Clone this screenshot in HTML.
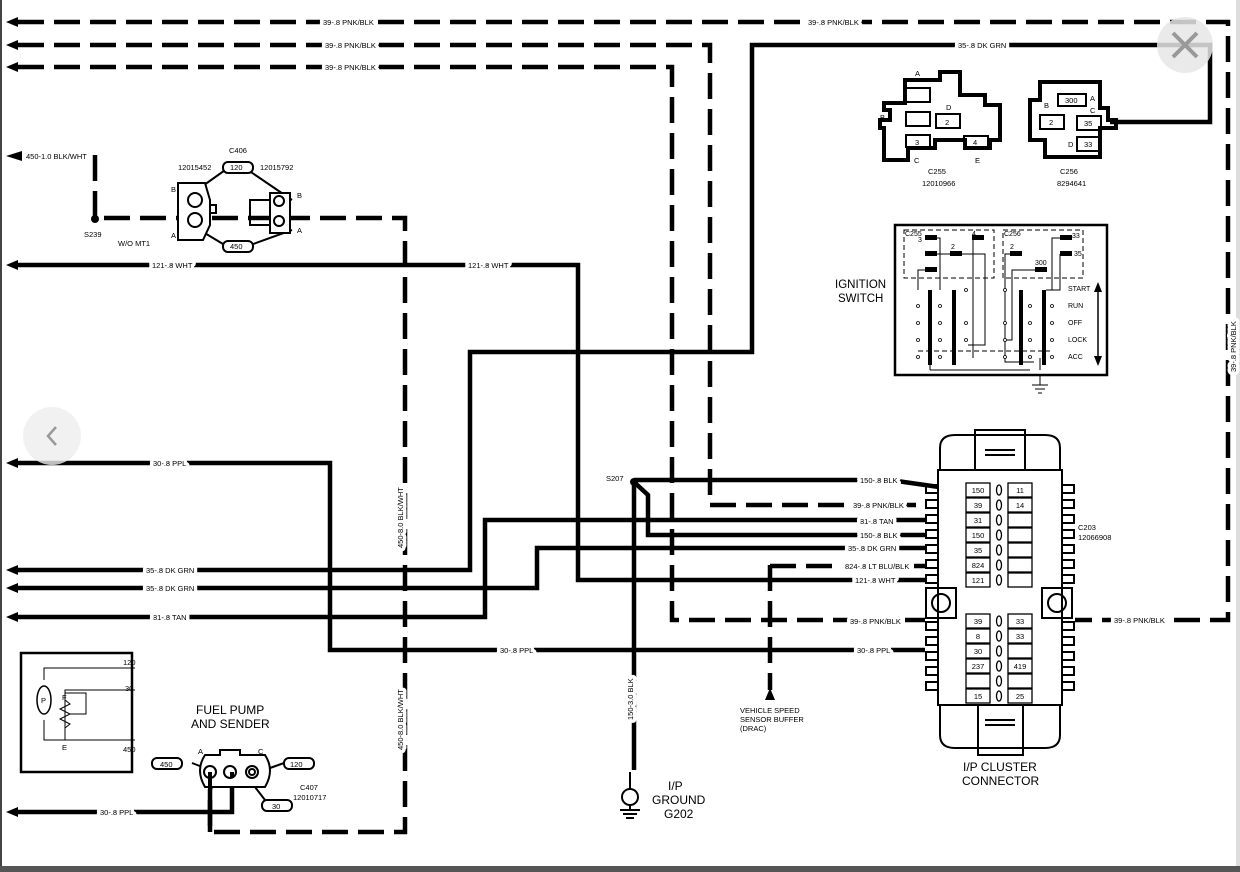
<!DOCTYPE html>
<html><head><meta charset="utf-8"><style>
html,body{margin:0;padding:0;background:#fff;}
svg{display:block;}
text{font-family:"Liberation Sans",sans-serif;fill:#000;}
.lb text{stroke:#fff;stroke-width:7px;paint-order:stroke;stroke-linejoin:round;}
</style></head><body>
<svg width="1240" height="872" viewBox="0 0 1240 872" xmlns="http://www.w3.org/2000/svg">
<rect width="1240" height="872" fill="#fff"/>
<rect x="0" y="0" width="2" height="872" fill="#444"/>
<rect x="1236" y="0" width="4" height="872" fill="#ddd"/>
<rect x="0" y="866" width="1240" height="6" fill="#555"/>

<g fill="none" stroke="#000" stroke-width="4.5">
<g stroke-dasharray="26 10">
<path d="M18 22 H1228 V620 H1075"/>
<path d="M18 45 H710 V505 H925"/>
<path d="M18 67 H672 V620 H925"/>
<path d="M95 155 V218 H405 V832 H210 V795"/>
<path d="M770 565 V690"/>
<path d="M770 566 H925"/>
</g>
<path d="M1110 122 H1210 V45 H752 V352 H470 V570 H18"/>
<path d="M18 265 H578 V580 H925"/>
<path d="M18 463 H330 V650 H925"/>
<path d="M18 617 H485 V520 H925"/>
<path d="M18 588 H537 V548 H925"/>
<path d="M634 482 V770"/>
<path d="M634 480 H890 L960 490"/>
<path d="M634 482 L648 495 V535 H925"/>
<path d="M18 812 H232 V775"/>
<path d="M210 832 V790 L213 775"/>
</g>
<g fill="#000">
<polygon points="6,265 18,260 18,270"/>
<polygon points="6,463 18,458 18,468"/>
<polygon points="6,570 18,565 18,575"/>
<polygon points="6,588 18,583 18,593"/>
<polygon points="6,617 18,612 18,622"/>
<polygon points="6,812 18,807 18,817"/>
<polygon points="6,22 18,17 18,27"/>
<polygon points="6,45 18,40 18,50"/>
<polygon points="6,67 18,62 18,72"/>
<polygon points="6,156 22,151 22,161"/>
<polygon points="770,688 765,700 775,700"/>
<circle cx="95" cy="219" r="4"/>
<circle cx="634" cy="482" r="4"/>
</g>
<g font-size="7.5" class="lb">
<text x="323" y="25">39-.8 PNK/BLK</text>
<text x="808" y="25">39-.8 PNK/BLK</text>
<text x="325" y="48">39-.8 PNK/BLK</text>
<text x="325" y="70">39-.8 PNK/BLK</text>
<text x="958" y="48">35-.8 DK GRN</text>
<text x="26" y="159">450-1.0 BLK/WHT</text>
<text x="84" y="237">S239</text>
<text x="118" y="246">W/O MT1</text>
<text x="152" y="268">121-.8 WHT</text>
<text x="468" y="268">121-.8 WHT</text>
<text x="153" y="466">30-.8 PPL</text>
<text x="146" y="573">35-.8 DK GRN</text>
<text x="146" y="591">35-.8 DK GRN</text>
<text x="153" y="620">31-.8 TAN</text>
<text x="500" y="653">30-.8 PPL</text>
<text x="857" y="653">30-.8 PPL</text>
<text x="100" y="815">30-.8 PPL</text>
<text x="606" y="481">S207</text>
<text x="860" y="483">150-.8 BLK</text>
<text x="853" y="508">39-.8 PNK/BLK</text>
<text x="860" y="524">31-.8 TAN</text>
<text x="860" y="538">150-.8 BLK</text>
<text x="848" y="551">35-.8 DK GRN</text>
<text x="845" y="569">824-.8 LT BLU/BLK</text>
<text x="855" y="583">121-.8 WHT</text>
<text x="850" y="624">39-.8 PNK/BLK</text>
<text x="1114" y="623">39-.8 PNK/BLK</text>
<text x="1078" y="530">C203</text>
<text x="1078" y="540">12066908</text>
<text x="740" y="713">VEHICLE SPEED</text>
<text x="740" y="722">SENSOR BUFFER</text>
<text x="740" y="731">(DRAC)</text>
<text transform="translate(403,548) rotate(-90)">450-8.0 BLK/WHT</text>
<text transform="translate(403,750) rotate(-90)">450-8.0 BLK/WHT</text>
<text transform="translate(633,720) rotate(-90)">150-3.0 BLK</text>
<text transform="translate(1236,372) rotate(-90)">39-.8 PNK/BLK</text>
</g>
<g fill="none" stroke="#000" stroke-width="2">
<circle cx="630" cy="797" r="8"/><path d="M630 772 V789 M630 805 V810 M620 810 H640 M623 814 H637 M626 818 H634"/>
</g>
<g font-size="12"><text x="668" y="790">I/P</text><text x="652" y="804">GROUND</text><text x="664" y="818">G202</text></g>

<g fill="none" stroke="#000" stroke-width="2">
<path d="M183 200 L228 168 M245 168 L292 200 M183 220 L228 247 M245 247 L292 230"/>
<rect x="223" y="162" width="30" height="11" rx="5" fill="#fff"/>
<rect x="223" y="241" width="30" height="11" rx="5" fill="#fff"/>
<path d="M178 183 H205 L210 200 V225 L203 240 H178 Z" fill="#fff"/>
<circle cx="195" cy="200" r="7"/><circle cx="195" cy="220" r="7"/>
<rect x="210" y="205" width="6" height="8"/>
<rect x="270" y="193" width="20" height="40" fill="#fff"/>
<circle cx="279" cy="201" r="5"/><circle cx="279" cy="221" r="5"/>
<rect x="250" y="200" width="20" height="25"/>
</g>
<g font-size="7.5"><text x="229" y="153">C406</text><text x="178" y="170">12015452</text><text x="260" y="170">12015792</text>
<text x="230" y="170">120</text><text x="230" y="249">450</text><text x="171" y="192">B</text><text x="171" y="238">A</text><text x="297" y="198">B</text><text x="297" y="233">A</text></g>

<g fill="none" stroke="#000">
<rect x="21" y="653" width="111" height="119" stroke-width="2.5"/>
<path d="M44 680 V668 H135 M44 720 V740 H135 M65 740 V690 H135 M65 693 H86 V714 H70 M65 700 l5 4 -10 5 10 5 -10 5 10 5 -5 4" stroke-width="1"/>
<ellipse cx="44" cy="700" rx="7" ry="14" fill="#fff" stroke-width="1.5"/>
</g>
<g font-size="7.5"><text x="123" y="665">120</text><text x="125" y="691">30</text><text x="123" y="752">450</text><text x="41" y="703">P</text><text x="62" y="700">F</text><text x="62" y="750">E</text></g>
<g font-size="12"><text x="196" y="714">FUEL PUMP</text><text x="191" y="728">AND SENDER</text></g>
<g fill="none" stroke="#000" stroke-width="2">
<path d="M192 763 L205 768 M284 763 L270 768 M238 765 L265 800"/>
<path d="M205 755 H220 V750 H240 V755 H265 Q275 770 265 787 H205 Q195 770 205 755 Z" fill="#fff"/>
<circle cx="210" cy="772" r="6"/><circle cx="230" cy="772" r="6"/><circle cx="252" cy="772" r="6"/><circle cx="252" cy="772" r="3"/>
<rect x="152" y="758" width="30" height="11" rx="5" fill="#fff"/>
<rect x="284" y="758" width="30" height="11" rx="5" fill="#fff"/>
<rect x="262" y="800" width="30" height="11" rx="5" fill="#fff"/>
</g>
<g fill="none" stroke="#000" stroke-width="4"><path d="M210 772 V795 M232 772 V778"/></g>
<g font-size="7.5"><text x="160" y="767">450</text><text x="290" y="767">120</text><text x="272" y="809">30</text><text x="198" y="754">A</text><text x="258" y="754">C</text><text x="300" y="790">C407</text><text x="293" y="800">12010717</text></g>

<g fill="none" stroke="#000">
<path d="M905 80 H940 V72 H960 V95 H985 V105 H1000 V140 H990 V148 H965 V140 H935 V148 H908 V160 H884 V128 H880 V120 H890 V110 H884 V103 H905 Z" stroke-width="4"/>
<rect x="906" y="88" width="24" height="14" stroke-width="2"/>
<rect x="906" y="112" width="24" height="14" stroke-width="2"/>
<rect x="936" y="114" width="24" height="14" stroke-width="2"/>
<rect x="906" y="135" width="24" height="12" stroke-width="2"/>
<rect x="964" y="136" width="24" height="12" stroke-width="2"/>
<path d="M1040 82 H1100 V108 H1108 V120 H1116 V128 H1100 V157 H1045 V140 H1030 V100 H1040 Z" stroke-width="4"/>
<rect x="1058" y="94" width="28" height="12" stroke-width="2"/>
<rect x="1040" y="115" width="24" height="14" stroke-width="2"/>
<rect x="1077" y="116" width="24" height="14" stroke-width="2"/>
<rect x="1077" y="137" width="24" height="14" stroke-width="2"/>
</g>
<g font-size="7.5"><text x="915" y="76">A</text><text x="880" y="120">B</text><text x="946" y="110">D</text><text x="945" y="125">2</text><text x="915" y="145">3</text><text x="973" y="145">4</text><text x="914" y="163">C</text><text x="975" y="163">E</text>
<text x="928" y="174">C255</text><text x="922" y="186">12010966</text>
<text x="1065" y="103">300</text><text x="1090" y="101">A</text><text x="1044" y="108">B</text><text x="1090" y="113">C</text><text x="1049" y="125">2</text><text x="1084" y="126">35</text><text x="1068" y="147">D</text><text x="1084" y="147">33</text>
<text x="1060" y="174">C256</text><text x="1057" y="186">8294641</text></g>

<rect x="895" y="225" width="212" height="150" fill="none" stroke="#000" stroke-width="2.5"/>
<g fill="none" stroke="#000" stroke-width="1" stroke-dasharray="5 3">
<rect x="904" y="230" width="90" height="48"/><rect x="1003" y="230" width="80" height="48"/>
<path d="M918 351 H1050"/>
</g>
<g fill="none" stroke="#000" stroke-width="1">
<path d="M930 238 H940 V290 M930 254 H985 V345 H968 M972 238 H973 V358 M930 270 H918 V290 M1020 254 H1005 V362 H1034 M1060 238 H1052 V290 H1046 M1060 254 V290 H1052 M1040 270 H1012 V340 H1005 M930 370 H1030 M930 358 V370 M1040 358 V370"/>
<path d="M1098 288 V360" stroke-width="1.5"/>
</g>
<g fill="#000">
<rect x="925" y="235" width="12" height="5"/><rect x="925" y="251" width="12" height="5"/><rect x="950" y="251" width="12" height="5"/><rect x="972" y="235" width="12" height="5"/><rect x="925" y="267" width="12" height="5"/>
<rect x="1010" y="251" width="12" height="5"/><rect x="1035" y="267" width="12" height="5"/><rect x="1060" y="235" width="12" height="5"/><rect x="1060" y="251" width="12" height="5"/>
<rect x="928" y="290" width="4" height="75"/><rect x="952" y="290" width="4" height="75"/><rect x="1019" y="290" width="4" height="75"/><rect x="1042" y="290" width="4" height="75"/>
<polygon points="1098,282 1094,292 1102,292"/><polygon points="1098,366 1094,356 1102,356"/>
</g>
<g fill="none" stroke="#000" stroke-width="1">
<path d="M1040 375 V385 M1032 385 H1048 M1035 389 H1045 M1038 393 H1042"/>
</g>
<g fill="#fff" stroke="#000" stroke-width="0.8">
<circle cx="918" cy="306" r="1.5"/><circle cx="918" cy="323" r="1.5"/><circle cx="918" cy="340" r="1.5"/><circle cx="918" cy="357" r="1.5"/>
<circle cx="940" cy="306" r="1.5"/><circle cx="940" cy="323" r="1.5"/><circle cx="940" cy="340" r="1.5"/><circle cx="940" cy="357" r="1.5"/>
<circle cx="966" cy="290" r="1.5"/><circle cx="966" cy="323" r="1.5"/><circle cx="966" cy="340" r="1.5"/>
<circle cx="1005" cy="290" r="1.5"/><circle cx="1005" cy="323" r="1.5"/><circle cx="1005" cy="340" r="1.5"/><circle cx="1005" cy="357" r="1.5"/>
<circle cx="1030" cy="306" r="1.5"/><circle cx="1030" cy="323" r="1.5"/><circle cx="1030" cy="340" r="1.5"/><circle cx="1030" cy="357" r="1.5"/>
<circle cx="1052" cy="306" r="1.5"/><circle cx="1052" cy="323" r="1.5"/><circle cx="1052" cy="340" r="1.5"/><circle cx="1052" cy="357" r="1.5"/>
</g>
<g font-size="7"><text x="905" y="236">C255</text><text x="1004" y="236">C256</text><text x="918" y="242">3</text><text x="951" y="249">2</text><text x="972" y="236">4</text><text x="1010" y="249">2</text><text x="1035" y="265">300</text><text x="1072" y="238">33</text><text x="1074" y="256">35</text>
<text x="1068" y="291">START</text><text x="1068" y="308">RUN</text><text x="1068" y="325">OFF</text><text x="1068" y="342">LOCK</text><text x="1068" y="359">ACC</text></g>
<g font-size="11.5"><text x="835" y="288">IGNITION</text><text x="838" y="302">SWITCH</text></g>

<g fill="none" stroke="#000" stroke-width="2">
<path d="M940 470 V448 Q940 435 955 435 H1045 Q1060 435 1060 448 V470"/>
<rect x="975" y="430" width="50" height="40"/>
<path d="M985 450 H1015 M985 455 H1015"/>
<path d="M938 470 H1062 V705 H938 Z" fill="#fff"/>
<path d="M940 705 V735 Q940 748 955 748 H1045 Q1060 748 1060 735 V705"/>
<rect x="978" y="705" width="45" height="50"/>
<path d="M985 720 H1015 M985 725 H1015"/>
<rect x="926" y="588" width="30" height="30"/><circle cx="941" cy="603" r="9"/>
<rect x="1042" y="588" width="30" height="30"/><circle cx="1057" cy="603" r="9"/>
</g>
<g fill="none" stroke="#000" stroke-width="2">
<path d="M938 485 h-12 v8 h12 M938 500 h-12 v8 h12 M938 515 h-12 v8 h12 M938 530 h-12 v8 h12 M938 545 h-12 v8 h12 M938 560 h-12 v8 h12 M938 575 h-12 v8 h12
M938 622 h-12 v8 h12 M938 637 h-12 v8 h12 M938 652 h-12 v8 h12 M938 667 h-12 v8 h12 M938 682 h-12 v8 h12
M1062 485 h12 v8 h-12 M1062 500 h12 v8 h-12 M1062 515 h12 v8 h-12 M1062 530 h12 v8 h-12 M1062 545 h12 v8 h-12 M1062 560 h12 v8 h-12 M1062 575 h12 v8 h-12
M1062 622 h12 v8 h-12 M1062 637 h12 v8 h-12 M1062 652 h12 v8 h-12 M1062 667 h12 v8 h-12 M1062 682 h12 v8 h-12"/>
</g>
<g fill="#fff" stroke="#000" stroke-width="1.3">
<rect x="966" y="483" width="24" height="14"/><rect x="966" y="498" width="24" height="14"/><rect x="966" y="513" width="24" height="14"/><rect x="966" y="528" width="24" height="14"/><rect x="966" y="543" width="24" height="14"/><rect x="966" y="558" width="24" height="14"/><rect x="966" y="573" width="24" height="14"/>
<rect x="1008" y="483" width="24" height="14"/><rect x="1008" y="498" width="24" height="14"/><rect x="1008" y="513" width="24" height="14"/><rect x="1008" y="528" width="24" height="14"/><rect x="1008" y="543" width="24" height="14"/><rect x="1008" y="558" width="24" height="14"/><rect x="1008" y="573" width="24" height="14"/>
<rect x="966" y="614" width="24" height="14"/><rect x="966" y="629" width="24" height="14"/><rect x="966" y="644" width="24" height="14"/><rect x="966" y="659" width="24" height="14"/><rect x="966" y="674" width="24" height="14"/><rect x="966" y="689" width="24" height="14"/>
<rect x="1008" y="614" width="24" height="14"/><rect x="1008" y="629" width="24" height="14"/><rect x="1008" y="644" width="24" height="14"/><rect x="1008" y="659" width="24" height="14"/><rect x="1008" y="674" width="24" height="14"/><rect x="1008" y="689" width="24" height="14"/>
<ellipse cx="999" cy="490" rx="2.5" ry="5"/><ellipse cx="999" cy="505" rx="2.5" ry="5"/><ellipse cx="999" cy="520" rx="2.5" ry="5"/><ellipse cx="999" cy="535" rx="2.5" ry="5"/><ellipse cx="999" cy="550" rx="2.5" ry="5"/><ellipse cx="999" cy="565" rx="2.5" ry="5"/><ellipse cx="999" cy="580" rx="2.5" ry="5"/>
<ellipse cx="999" cy="621" rx="2.5" ry="5"/><ellipse cx="999" cy="636" rx="2.5" ry="5"/><ellipse cx="999" cy="651" rx="2.5" ry="5"/><ellipse cx="999" cy="666" rx="2.5" ry="5"/><ellipse cx="999" cy="681" rx="2.5" ry="5"/><ellipse cx="999" cy="696" rx="2.5" ry="5"/>
</g>
<g font-size="7.5" text-anchor="middle">
<text x="978" y="493">150</text><text x="978" y="508">39</text><text x="978" y="523">31</text><text x="978" y="538">150</text><text x="978" y="553">35</text><text x="978" y="568">824</text><text x="978" y="583">121</text>
<text x="1020" y="493">11</text><text x="1020" y="508">14</text>
<text x="978" y="624">39</text><text x="978" y="639">8</text><text x="978" y="654">30</text><text x="978" y="669">237</text><text x="978" y="699">15</text>
<text x="1020" y="624">33</text><text x="1020" y="639">33</text><text x="1020" y="669">419</text><text x="1020" y="699">25</text>
</g>
<g font-size="12"><text x="963" y="771">I/P CLUSTER</text><text x="962" y="785">CONNECTOR</text></g>

<circle cx="1185" cy="45" r="28" fill="#e6e6e6" opacity="0.85"/>
<path d="M1173 33 L1197 57 M1197 33 L1173 57" stroke="#999" stroke-width="4"/>
<circle cx="52" cy="436" r="29" fill="#eee" opacity="0.8"/>
<path d="M56 427 L48 436 L56 445" fill="none" stroke="#999" stroke-width="2.5"/>
</svg>
</body></html>
